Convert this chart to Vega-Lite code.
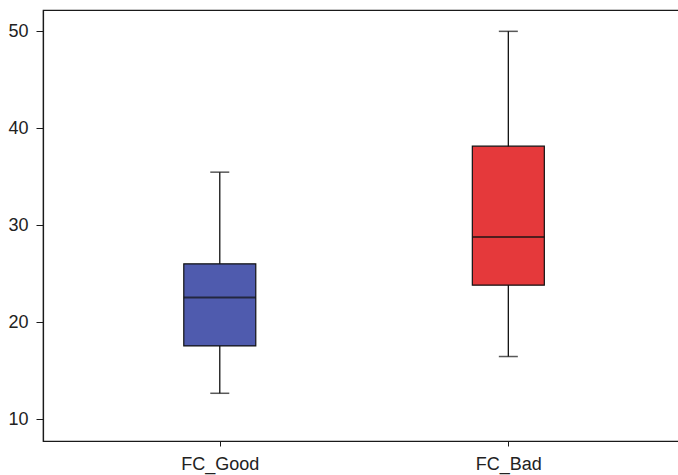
{
  "$schema": "https://vega.github.io/schema/vega-lite/v6.json",
  "autosize": {"type": "none"},
  "padding": {"left": 43, "top": 10, "right": 0, "bottom": 34},
  "width": 640,
  "height": 431,
  "config": {
    "view": {"stroke": "#1a1a1a", "strokeWidth": 1.2},
    "font": "Liberation Sans",
    "axis": {"labelFont": "Liberation Sans", "labelFontSize": 18, "labelColor": "#222", "domainColor": "#1a1a1a", "tickColor": "#1a1a1a", "domainWidth": 1.2, "tickWidth": 1, "grid": false, "title": null}
  },
  "data": {
    "values": [
      {"group": "FC_Good", "min": 12.68, "q1": 17.56, "median": 22.56, "q3": 26.03, "max": 35.48},
      {"group": "FC_Bad", "min": 16.47, "q1": 23.83, "median": 28.79, "q3": 38.16, "max": 50.0}
    ]
  },
  "encoding": {
    "x": {
      "field": "group", "type": "nominal", "sort": ["FC_Good", "FC_Bad"],
      "scale": {"type": "point", "padding": 0.609, "align": 0.503},
      "axis": {"labelAngle": 0, "tickSize": 5, "labelPadding": 9, "domain": true}
    }
  },
  "layer": [
    {
      "mark": {"type": "rule", "color": "#111", "strokeWidth": 1.3},
      "encoding": {
        "y": {"field": "min", "type": "quantitative", "scale": {"domain": [7.76, 52.2], "nice": false, "zero": false},
          "axis": {"values": [10, 20, 30, 40, 50], "tickSize": 7, "labelPadding": 8}},
        "y2": {"field": "max"}
      }
    },
    {
      "mark": {"type": "bar", "size": 72, "stroke": "#111", "strokeWidth": 1.2},
      "encoding": {
        "y": {"field": "q1", "type": "quantitative"},
        "y2": {"field": "q3"},
        "fill": {"field": "group", "type": "nominal", "scale": {"domain": ["FC_Good", "FC_Bad"], "range": ["#4f5bae", "#e5393b"]}, "legend": null}
      }
    },
    {
      "mark": {"type": "tick", "size": 72, "thickness": 2, "color": "#111"},
      "encoding": {"y": {"field": "median", "type": "quantitative"}}
    },
    {
      "mark": {"type": "tick", "size": 19, "thickness": 1.5, "color": "#111"},
      "encoding": {"y": {"field": "min", "type": "quantitative"}}
    },
    {
      "mark": {"type": "tick", "size": 19, "thickness": 1.5, "color": "#111"},
      "encoding": {"y": {"field": "max", "type": "quantitative"}}
    }
  ]
}
